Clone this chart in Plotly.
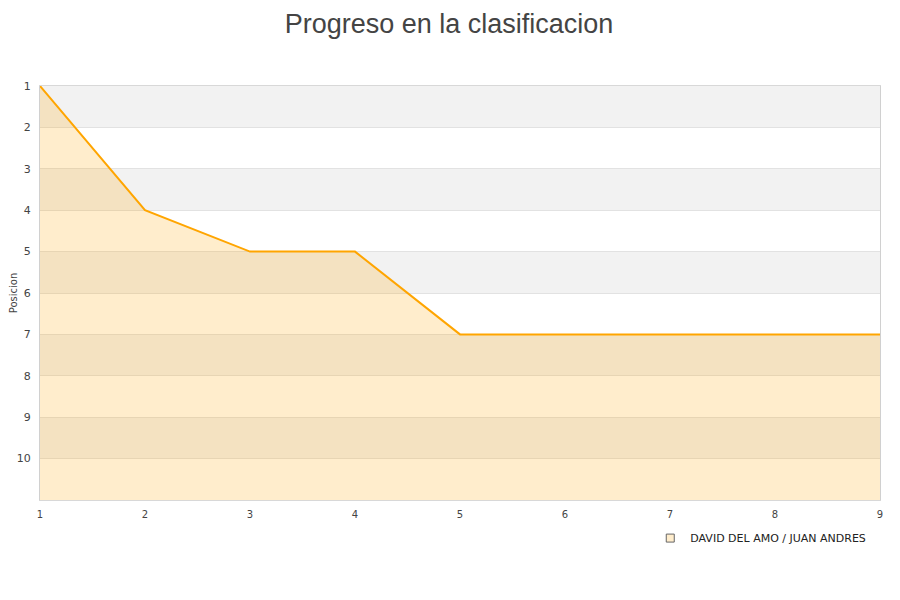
import plotly.graph_objects as go

# jornadas y posicion en la clasificacion
jornadas = [1, 2, 3, 4, 5, 6, 7, 8, 9]
posiciones = [1, 4, 5, 5, 7, 7, 7, 7, 7]
pareja = "DAVID DEL AMO / JUAN ANDRES"
y_ticks = [1, 2, 3, 4, 5, 6, 7, 8, 9, 10]

Y_BOTTOM = 11  # fondo del eje (invertido)
LINE = "#ffa500"
FILL = "rgba(255,165,0,0.2)"

fig = go.Figure()

# base invisible para rellenar hasta el fondo del grafico
fig.add_trace(go.Scatter(
    x=jornadas, y=[Y_BOTTOM] * len(jornadas), mode="lines",
    line=dict(width=0), showlegend=False, hoverinfo="skip",
))
fig.add_trace(go.Scatter(
    x=jornadas, y=posiciones, mode="lines", name=pareja,
    line=dict(color=LINE, width=2), fill="tonexty", fillcolor=FILL,
    showlegend=False,
))
# entrada de leyenda con cuadrado
fig.add_trace(go.Scatter(
    x=[None], y=[None], mode="markers", name=pareja,
    marker=dict(symbol="square", size=8, color="#ffedcc",
                line=dict(color="#666666", width=1)),
))

# bandas alternas del fondo
for i in range(0, len(y_ticks), 2):
    fig.add_shape(type="rect", xref="paper", x0=0, x1=1, y0=y_ticks[i], y1=y_ticks[i] + 1,
                  fillcolor="#f2f2f2", line=dict(width=0), layer="below")

fig.update_layout(
    width=900, height=600,
    paper_bgcolor="white", plot_bgcolor="white",
    margin=dict(l=32, r=28, t=78, b=108),
    font=dict(family="DejaVu Sans", size=11, color="#444444"),
    title=dict(text="Progreso en la clasificacion", x=0.49, xanchor="center",
               y=0.99, yanchor="top", pad=dict(t=0, b=0),
               font=dict(family="Liberation Sans", size=27, color="#444444")),
    legend=dict(x=0.7265, y=-0.092, xanchor="left", yanchor="middle",
                bgcolor="rgba(0,0,0,0)", font=dict(size=11, color="#222222")),
    showlegend=True,
)
fig.update_xaxes(
    range=[1, 9], tickvals=jornadas, showgrid=False, zeroline=False,
    showline=True, mirror=True, linecolor="#d8d8d8", linewidth=1,
    ticks="outside", ticklen=5, tickcolor="rgba(0,0,0,0)",
    tickfont=dict(size=10, color="#444444"), automargin=False,
)
fig.update_yaxes(
    range=[Y_BOTTOM, 1], tickvals=y_ticks, showgrid=True, gridcolor="#e2e2e2",
    zeroline=False, showline=True, mirror=True, linecolor="#d0d0d0", linewidth=1,
    ticks="outside", ticklen=6, tickcolor="rgba(0,0,0,0)",
    tickfont=dict(size=11, color="#444444"), automargin=False,
    title=dict(text="Posicion", standoff=6, font=dict(size=10, color="#444444")),
)

fig.write_html("out.html")
